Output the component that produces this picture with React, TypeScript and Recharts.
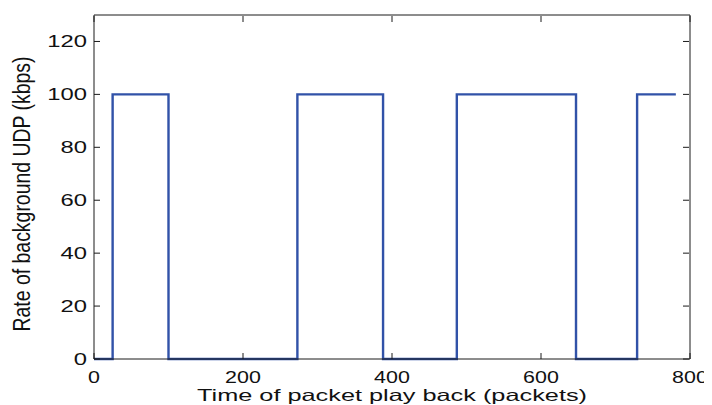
import React from 'react';
import { LineChart, Line, XAxis, YAxis, Label } from 'recharts';

// change points of the background UDP rate (step after)
const times = [0, 25, 100, 273, 388, 487, 647, 729, 781];
const rates = [0, 100, 0, 100, 0, 100, 0, 100, 100];
const xTicks = [0, 200, 400, 600, 800];
const yTicks = [0, 20, 40, 60, 80, 100, 120];

const data = times.map((t, i) => ({ t, rate: rates[i] }));

const FONT = '"Liberation Sans", Arial, Helvetica, sans-serif';
const M = 4; // tickMargin used on every axis
const TL = 6; // inward tick length
const AX = '#1a1a1a';

const BottomTick = (props: any) => {
  const { x, y, payload } = props;
  const axisY = y - M;
  return (
    <g>
      <line x1={x} x2={x} y1={axisY} y2={axisY - TL} stroke={AX} strokeWidth={1} />
      <text
        transform={`translate(${x},${axisY + 24}) scale(1.3,1)`}
        textAnchor="middle"
        fontSize={16.5}
        fontFamily={FONT}
        fill="#111"
      >
        {payload.value}
      </text>
    </g>
  );
};

const TopTick = (props: any) => {
  const { x, y } = props;
  const axisY = y + M + 1;
  return <line x1={x} x2={x} y1={axisY} y2={axisY + TL} stroke={AX} strokeWidth={1} />;
};

const LeftTick = (props: any) => {
  const { x, y, payload } = props;
  const axisX = x + M;
  return (
    <g>
      <line x1={axisX} x2={axisX + TL} y1={y} y2={y} stroke={AX} strokeWidth={1} />
      <text
        transform={`translate(${axisX - 7},${y + 6}) scale(1.4,1)`}
        textAnchor="end"
        fontSize={17}
        fontFamily={FONT}
        fill="#111"
      >
        {payload.value}
      </text>
    </g>
  );
};

const RightTick = (props: any) => {
  const { x, y } = props;
  const axisX = x - M - 1;
  return <line x1={axisX} x2={axisX - TL} y1={y} y2={y} stroke={AX} strokeWidth={1} />;
};

export default function App() {
  return (
    <div style={{ width: 704, height: 397 }}>
      <LineChart width={704} height={397} data={data} margin={{ top: 6, right: 21, bottom: 0, left: 0 }}>
        <XAxis
          xAxisId="bottom"
          dataKey="t"
          type="number"
          domain={[0, 800]}
          ticks={xTicks}
          height={46}
          tickSize={0}
          tickMargin={M}
          stroke={AX}
          tick={(p: any) => <BottomTick {...p} />}
        >
          <Label
            content={(p: any) => {
              const vb = p.viewBox;
              return (
                <text
                  x={vb.x + vb.width / 2}
                  y={vb.y + 42}
                  textAnchor="middle"
                  fontSize={16.5}
                  fontFamily={FONT}
                  fill="#111"
                  textLength={390}
                  lengthAdjust="spacingAndGlyphs"
                >
                  Time of packet play back (packets)
                </text>
              );
            }}
          />
        </XAxis>
        <XAxis
          xAxisId="top"
          orientation="top"
          dataKey="t"
          type="number"
          domain={[0, 800]}
          ticks={xTicks}
          height={1}
          tickSize={0}
          tickMargin={M}
          stroke={AX}
          tick={(p: any) => <TopTick {...p} />}
        />
        <YAxis
          yAxisId="left"
          type="number"
          domain={[0, 130]}
          ticks={yTicks}
          width={86}
          tickSize={0}
          tickMargin={M}
          stroke={AX}
          tick={(p: any) => <LeftTick {...p} />}
        >
          <Label
            content={(p: any) => {
              const vb = p.viewBox;
              const cx = 30 - 8;
              const cy = vb.y + vb.height / 2 + 7;
              return (
                <text
                  transform={`translate(${cx},${cy}) rotate(-90) scale(1,1.3)`}
                  textAnchor="middle"
                  fontSize={19}
                  fontFamily={FONT}
                  fill="#111"
                  textLength={275}
                  lengthAdjust="spacingAndGlyphs"
                >
                  Rate of background UDP (kbps)
                </text>
              );
            }}
          />
        </YAxis>
        <YAxis
          yAxisId="right"
          orientation="right"
          dataKey="rate"
          type="number"
          domain={[0, 130]}
          ticks={yTicks}
          width={1}
          tickSize={0}
          tickMargin={M}
          stroke={AX}
          tick={(p: any) => <RightTick {...p} />}
        />
        <Line
          xAxisId="bottom"
          yAxisId="left"
          dataKey="rate"
          type="stepAfter"
          stroke="#3152a8"
          strokeWidth={2.4}
          dot={false}
          isAnimationActive={false}
        />
      </LineChart>
    </div>
  );
}
